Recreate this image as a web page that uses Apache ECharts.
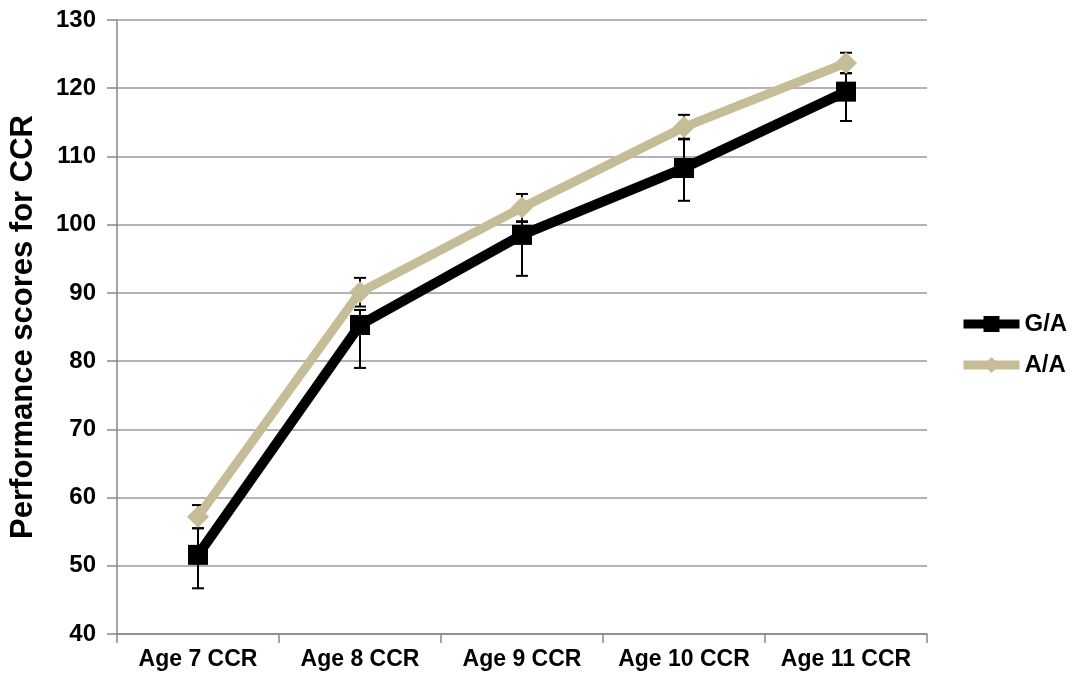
<!DOCTYPE html>
<html><head><meta charset="utf-8">
<script src="https://cdn.jsdelivr.net/npm/echarts@6/dist/echarts.min.js"></script>
<style>html,body{margin:0;padding:0;background:#fff}#c{width:1074px;height:676px}</style>
</head><body><div id="c"></div>
<script>
const categories = ['Age 7 CCR','Age 8 CCR','Age 9 CCR','Age 10 CCR','Age 11 CCR'];
const gaValues = [51.6, 85.3, 98.5, 108.3, 119.5];
const gaLow = [46.7, 79.0, 92.5, 103.5, 115.2];
const gaHigh = [55.5, 87.5, 100.4, 112.6, 122.2];
const aaValues = [57.2, 90.1, 102.5, 114.3, 123.7];
const aaLow = [55.5, 88.0, 100.5, 112.5, 122.2];
const aaHigh = [58.9, 92.2, 104.5, 116.1, 125.2];
const yTicks = [40, 130, 10];

function errSeries(name, low, high, z){
  return {
    type: 'custom', name: name + ' err', z: z, silent: true,
    data: categories.map((c,i)=>[i, low[i], high[i]]),
    renderItem: function(params, api){
      const x = api.value(0);
      const p1 = api.coord([x, api.value(1)]);
      const p2 = api.coord([x, api.value(2)]);
      const hw = 6;
      const st = {stroke:'#000', lineWidth:2};
      return {type:'group', children:[
        {type:'line', shape:{x1:p1[0],y1:p1[1],x2:p2[0],y2:p2[1]}, style:st},
        {type:'line', shape:{x1:p1[0]-hw,y1:p1[1],x2:p1[0]+hw,y2:p1[1]}, style:st},
        {type:'line', shape:{x1:p2[0]-hw,y1:p2[1],x2:p2[0]+hw,y2:p2[1]}, style:st}
      ]};
    }
  };
}

const chart = echarts.init(document.getElementById('c'));
chart.setOption({
  animation:false,
  textStyle:{fontFamily:'Liberation Sans, Arial, sans-serif'},
  grid:{left:117,right:147,top:20,bottom:42},
  legend:{
    orient:'vertical', left:959, top:312, itemGap:17, padding:0,
    itemWidth:56, itemHeight:20,
    lineStyle:{width:9},
    data:[{name:'G/A'},{name:'A/A'}],
    textStyle:{fontSize:24,fontWeight:'bold',color:'#000'}
  },
  xAxis:{
    type:'category', data:categories, boundaryGap:true,
    axisLine:{lineStyle:{color:'#888',width:1.5}},
    axisTick:{show:true,length:9,interval:0,lineStyle:{color:'#888',width:1.5}},
    axisLabel:{fontSize:23,fontWeight:'bold',color:'#000',margin:14,interval:0}
  },
  yAxis:{
    type:'value', min:yTicks[0], max:yTicks[1], interval:yTicks[2],
    name:'Performance scores for CCR', nameLocation:'middle', nameGap:78,
    nameTextStyle:{fontSize:31,fontWeight:'bold',color:'#000'},
    axisLine:{show:true,lineStyle:{color:'#888',width:1.5}},
    axisTick:{show:true,length:10,lineStyle:{color:'#888',width:1.5}},
    axisLabel:{fontSize:24,fontWeight:'bold',color:'#000',margin:21},
    splitLine:{lineStyle:{color:'#9a9a9a',width:1.5}}
  },
  series:[
    errSeries('G/A', gaLow, gaHigh, 2),
    {type:'line', name:'G/A', data:gaValues, z:3,
     symbol:'rect', symbolSize:20, showSymbol:true,
     lineStyle:{color:'#000',width:10}, itemStyle:{color:'#000'}},
    errSeries('A/A', aaLow, aaHigh, 4),
    {type:'line', name:'A/A', data:aaValues, z:5,
     symbol:'diamond', symbolSize:[22,22], showSymbol:true,
     lineStyle:{color:'#c4bd97',width:9}, itemStyle:{color:'#c4bd97'}}
  ]
});
</script></body></html>
